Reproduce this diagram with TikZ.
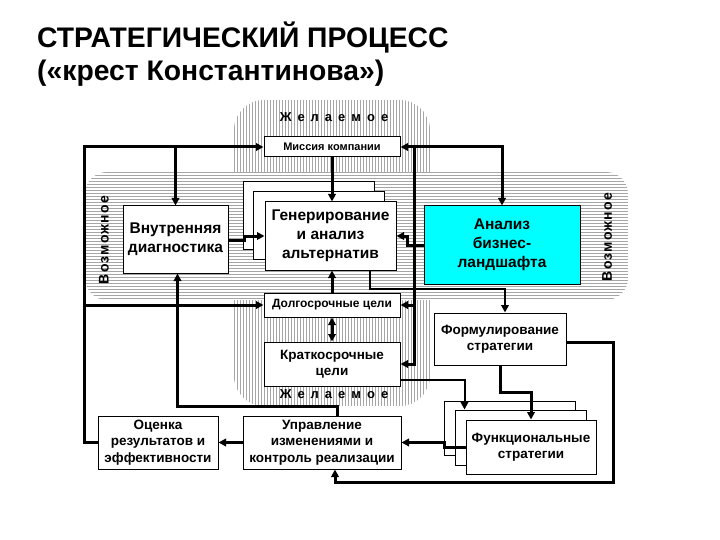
\documentclass[tikz,border=0pt]{standalone}
\usepackage{fontspec}
\setmainfont{Liberation Sans}
\usetikzlibrary{arrows.meta}
\definecolor{aqua}{RGB}{0,255,255}
\newcommand\lsp{\hspace{6pt}}
\newcommand\fs[1]{\bfseries\fontsize{#1}{1.22\dimexpr#1pt\relax}\selectfont}
\begin{document}
\begin{tikzpicture}[x=1pt,y=-1pt,
  box/.style={draw,line width=1pt,fill=white,align=center,inner sep=1pt,font=\fs{13.5}},
  tip/.tip={Triangle[length=7.5pt,width=7.5pt]},
  conn/.style={line width=3pt,-tip},
  dconn/.style={line width=3pt,tip-tip},
  tconn/.style={line width=2pt,-tip},
  hatch/.style={draw=black!35,line width=0.75pt},
  vtext/.style={rotate=90,font=\fs{14}\addfontfeatures{LetterSpace=9}}]
\useasboundingbox (0,0) rectangle (720,540);

% title
\node[anchor=base west,inner sep=0,font=\fs{28.3}] (t1) at (37,48) {СТРАТЕГИЧЕСКИЙ ПРОЦЕСС};
\node[anchor=base west,inner sep=0,font=\fs{28.3}] (t2) at (37,81) {(«крест Константинова»)};

% hatched regions
\begin{scope}
\clip[rounded corners=30] (234,100) rectangle (430,406);
\foreach \x in {234,237,...,430} \draw[hatch] (\x,100) -- (\x,406);
\end{scope}
\fill[white,rounded corners=22] (85,172) rectangle (628,300);
\begin{scope}
\clip[rounded corners=22] (85,172) rectangle (628,300);
\foreach \y in {172,175,...,300} \draw[hatch] (85,\y) -- (628,\y);
\end{scope}

\node[font=\fs{13}] (w1) at (334,117) {Ж\lsp е\lsp л\lsp а\lsp е\lsp м\lsp о\lsp е};
\node[font=\fs{13}] (w2) at (334,394) {Ж\lsp е\lsp л\lsp а\lsp е\lsp м\lsp о\lsp е};
\node[vtext] (v1) at (104,240) {Возможное};
\node[vtext] (v2) at (607,237) {Возможное};

% boxes
\node[box,minimum width=136pt,minimum height=20pt,font=\fs{11}] (mis) at (332,147) {Миссия компании};
\node[box,minimum width=105pt,minimum height=67pt,font=\fs{15.5}] (vnut) at (175.5,239.5) {Внутренняя\\диагностика};
\node[box,minimum width=131pt,minimum height=67pt] (g1) at (308.5,215.5) {};
\node[box,minimum width=131pt,minimum height=67pt] (g2) at (318.5,225.5) {};
\node[box,minimum width=131pt,minimum height=68pt,font=\fs{15.5}] (gen) at (330.5,236) {Генерирование\\и анализ\\альтернатив};
\node[box,fill=aqua,minimum width=156pt,minimum height=78pt,font=\fs{15.5}] (anal) at (502,245) {Анализ\\бизнес-\\ландшафта};
\node[box,minimum width=136pt,minimum height=24pt,font=\fs{12}] (dolg) at (332,305) {Долгосрочные цели};
\node[box,minimum width=136pt,minimum height=44pt] (krat) at (332,364) {Краткосрочные\\цели};
\node[box,minimum width=132pt,minimum height=52pt] (form) at (500,339) {Формулирование\\стратегии};
\node[box,minimum width=131pt,minimum height=54pt] (f1) at (509.5,428) {};
\node[box,minimum width=131pt,minimum height=55pt] (f2) at (520.5,437.5) {};
\node[box,minimum width=130pt,minimum height=54pt] (func) at (531,447) {Функциональные\\стратегии};
\node[box,minimum width=120pt,minimum height=53pt] (ocen) at (158,442.5) {Оценка\\результатов и\\эффективности};
\node[box,minimum width=158pt,minimum height=53pt] (upr) at (322,442.5) {Управление\\изменениями и\\контроль реализации};

% connectors
\coordinate (lx) at (84,0);
\coordinate (vx) at (414,0);
\coordinate (rb) at (613,482);
\draw[conn] (ocen.west) -| (lx |- mis.west) -- (mis.west);
\draw[conn] (lx |- dolg.west) -- (dolg.west);
\draw[conn] (vnut.north |- mis.west) -- (vnut.north);
\draw[conn] ([xshift=15pt]upr.north) -- ++(0,-9) -| ([xshift=2pt]vnut.south);
\draw[conn] (mis.south) -- (mis.south |- gen.north);
\draw[conn] ([yshift=-1pt]vnut.east) -- ++(16,0) |- (gen.west);
\draw[conn] (anal.west) -- ++(-16,0) |- (gen.east);
\draw[dconn] (mis.east) -| (anal.north);
\draw[conn] (vx |- mis.east) |- (krat.east);
\draw[conn] (vx |- dolg.east) -- (dolg.east);
\draw[tconn] ([xshift=39pt]gen.south) -- ++(0,18) -| ([xshift=5pt]form.north);
\draw[conn] (dolg.north) -- (dolg.north |- gen.south);
\draw[dconn] (dolg.south) -- (krat.north);
\draw[tconn] ([yshift=-16pt]krat.east) -| ([xshift=10pt]f2.north west);
\draw[conn] (form.south) -- ++(0,27) -| (func.north);
\draw[conn] (func.west) -- ++(-21,0) |- (upr.east);
\draw[conn] ([yshift=-3pt]form.east) -| (rb) -| ([xshift=13pt]upr.south);
\draw[conn] (upr.west) -- (ocen.east);
\end{tikzpicture}
\end{document}
